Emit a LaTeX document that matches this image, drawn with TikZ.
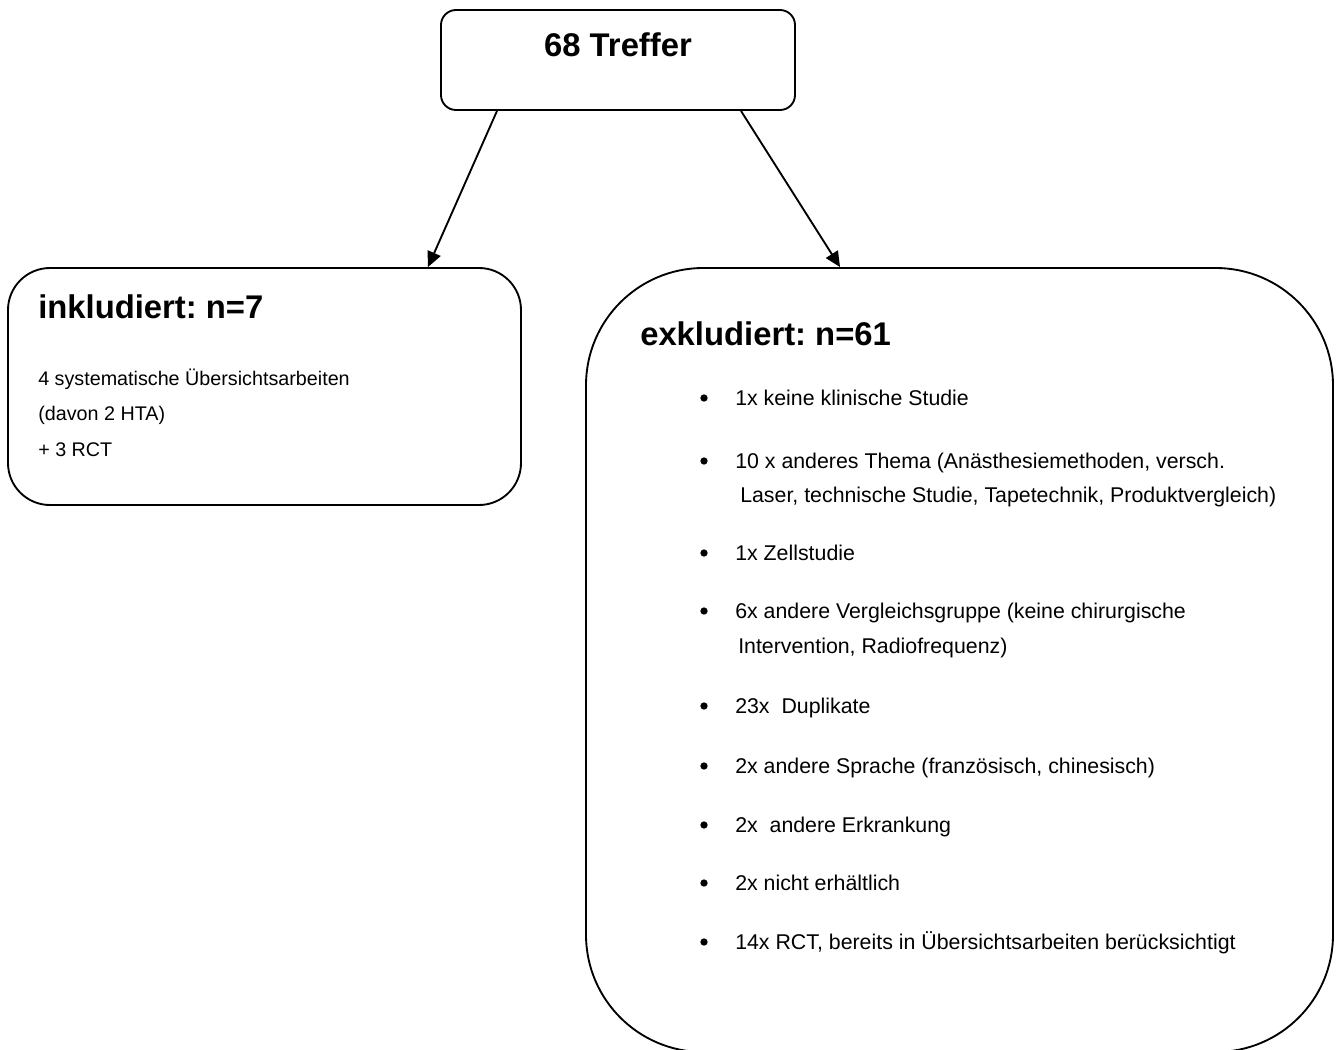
\documentclass[tikz,border=0pt]{standalone}
\usepackage{fontspec}
\setmainfont{Liberation Sans}
\usetikzlibrary{arrows.meta}
\frenchspacing
\tikzset{
  box/.style={draw=black, line width=1.4pt, fill=white, rectangle, inner sep=0pt},
  conn/.style={line width=1.4pt, -{Triangle[length=11.5pt,width=10.5pt]}},
  ttl/.style={anchor=base west, inner sep=0pt, font=\fontsize{24.6}{29}\selectfont\bfseries},
  lbody/.style={anchor=base west, inner sep=0pt, font=\fontsize{14.8}{18}\selectfont},
  rbody/.style={anchor=base west, inner sep=0pt, font=\fontsize{16}{19}\selectfont},
  bul/.style={circle, fill=black, inner sep=0pt, minimum size=5.5pt}
}
\begin{document}
\begin{tikzpicture}[x=0.75pt,y=-0.75pt]
\useasboundingbox (0,0) rectangle (1336,1050);
\clip (0,0) rectangle (1336,1050);
% boxes
\node[box, rounded corners=11.25pt, minimum width=265.5pt, minimum height=75pt] (top) at (618,60) {};
\node[box, rounded corners=31.5pt, minimum width=384.75pt, minimum height=177.75pt] (inc) at (264.5,386.5) {};
\node[box, rounded corners=88pt, minimum width=560.25pt, minimum height=588pt] (exc) at (959.5,660) {};
% arrows
\draw[conn] ([xshift=-90.75pt]top.south) -- ([xshift=122.6pt]inc.north);
\draw[conn] ([xshift=92.25pt]top.south) -- ([xshift=-89.6pt]exc.north);
% titles
\node[ttl, anchor=base] (ttop) at (618,56) {68 Treffer};
\node[ttl] (tinc) at (38,318) {inkludiert: n=7};
\node[ttl] (texc) at (640,345) {exkludiert: n=61};
% left body
\node[lbody] (l1) at (38,385) {4 systematische Übersichtsarbeiten};
\node[lbody] (l2) at (38,420) {(davon 2 HTA)};
\node[lbody] (l3) at (38,456) {+ 3 RCT};
% right body
\node[bul] (b1) at (704,398) {};
\node[rbody] (r1) at (735,405) {1x keine klinische Studie};
\node[bul] (b2) at (704,461) {};
\node[rbody] (r2) at (735,468) {10 x anderes Thema (Anästhesiemethoden, versch.};
\node[rbody] (r2b) at (740,502) {Laser, technische Studie, Tapetechnik, Produktvergleich)};
\node[bul] (b3) at (704,553) {};
\node[rbody] (r3) at (735,560) {1x Zellstudie};
\node[bul] (b4) at (704,611) {};
\node[rbody] (r4) at (735,618) {6x andere Vergleichsgruppe (keine chirurgische};
\node[rbody] (r4b) at (738,653) {Intervention, Radiofrequenz)};
\node[bul] (b5) at (704,706) {};
\node[rbody] (r5) at (735,713) {23x\ \ Duplikate};
\node[bul] (b6) at (704,766) {};
\node[rbody] (r6) at (735,773) {2x andere Sprache (französisch, chinesisch)};
\node[bul] (b7) at (704,825) {};
\node[rbody] (r7) at (735,832) {2x\ \ andere Erkrankung};
\node[bul] (b8) at (704,883) {};
\node[rbody] (r8) at (735,890) {2x nicht erhältlich};
\node[bul] (b9) at (704,942) {};
\node[rbody] (r9) at (735,949) {14x RCT, bereits in Übersichtsarbeiten berücksichtigt};
\end{tikzpicture}
\end{document}
